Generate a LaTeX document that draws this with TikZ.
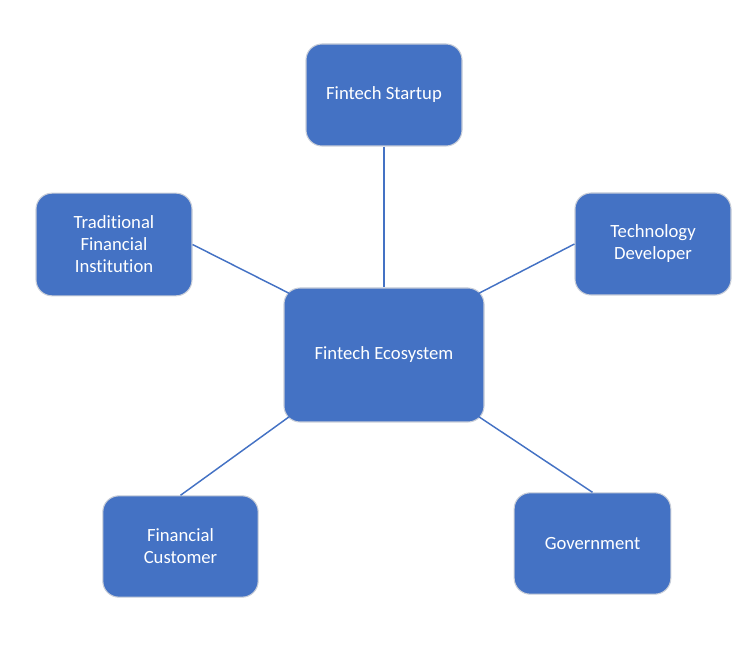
\documentclass[tikz,border=0pt]{standalone}
\usepackage{fontspec}
\setmainfont{Carlito}[Ligatures=NoCommon]
\usetikzlibrary{calc}
\definecolor{boxblue}{HTML}{4472C4}
\definecolor{boxedge}{HTML}{C9CED8}
\tikzset{
  entity/.style={draw=boxedge, line width=0.8pt, fill=boxblue, rounded corners=12pt,
    text=white, align=center, inner sep=0pt,
    font=\fontsize{14}{16.5}\selectfont},
  link/.style={draw=boxblue, line width=1.1pt}
}
\begin{document}
\begin{tikzpicture}[x=0.75pt, y=-0.75pt]
\useasboundingbox (0,0) rectangle (746,648);
\node[entity, minimum width=117pt, minimum height=76.5pt] (start) at (384,95) {Fintech Startup};
\node[entity, minimum width=117pt, minimum height=77pt] (trad) at (114,244.5) {Traditional\\Financial\\Institution};
\node[entity, minimum width=117pt, minimum height=76.5pt] (tech) at (653,244) {Technology\\Developer};
\node[entity, minimum width=150pt, minimum height=100.5pt] (eco) at (384,355) {Fintech Ecosystem};
\node[entity, minimum width=116.5pt, minimum height=76pt] (cust) at (180.5,546.5) {Financial\\Customer};
\node[entity, minimum width=117.5pt, minimum height=76pt] (gov) at (592.5,543.5) {Government};
\coordinate (ecoNW) at ($(eco.north west)+(6,6)$);
\coordinate (ecoNE) at ($(eco.north east)+(-6,6)$);
\coordinate (ecoSW) at ($(eco.south west)+(6,-6)$);
\coordinate (ecoSE) at ($(eco.south east)+(-6,-6)$);
\draw[link] (start.south) -- (eco.north);
\draw[link] (trad.east) -- (ecoNW);
\draw[link] (tech.west) -- (ecoNE);
\draw[link] (cust.north) -- (ecoSW);
\draw[link] (gov.north) -- (ecoSE);
\end{tikzpicture}
\end{document}
